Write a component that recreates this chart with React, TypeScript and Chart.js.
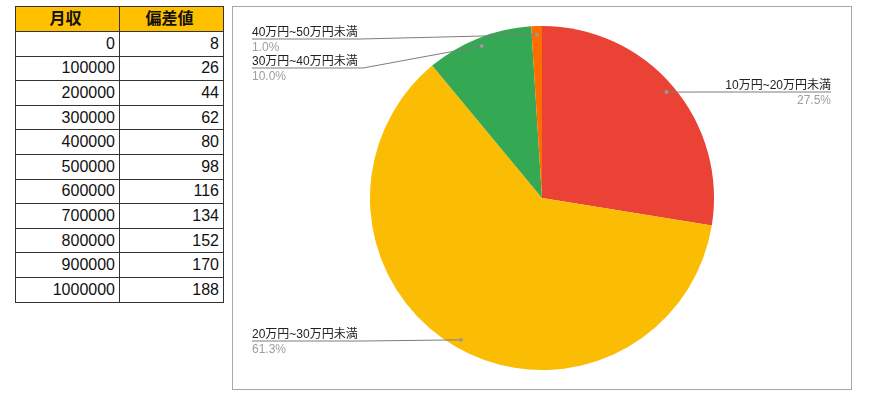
import { useEffect, useRef } from 'react'
import Chart from 'chart.js/auto'

// table data
const incomes = [0, 100000, 200000, 300000, 400000, 500000, 600000, 700000, 800000, 900000, 1000000]
const deviations = [8, 26, 44, 62, 80, 98, 116, 134, 152, 170, 188]

// pie data
const categories = ['10万円~20万円未満', '20万円~30万円未満', '30万円~40万円未満', '40万円~50万円未満']
const shares = [27.5, 61.3, 10.0, 1.0]
const sliceColors = ['#EA4335', '#FBBC04', '#34A853', '#FF6D01']

// where each slice label sits (canvas px)
const labelLayout = [
  { side: 'right', textX: 598, lineY: 85, elbowX: 470 },
  { side: 'left', textX: 19, lineY: 334, elbowX: 130 },
  { side: 'left', textX: 19, lineY: 61, elbowX: 130 },
  { side: 'left', textX: 19, lineY: 32, elbowX: 128 },
]

const FONT = '"Liberation Sans", "Noto Sans CJK JP", sans-serif'

const leaderLabels = {
  id: 'leaderLabels',
  afterDatasetsDraw(chart: any) {
    const ctx = chart.ctx as CanvasRenderingContext2D
    const meta = chart.getDatasetMeta(0)
    meta.data.forEach((arc: any, i: number) => {
      const { x, y, startAngle, endAngle, outerRadius } = arc.getProps(
        ['x', 'y', 'startAngle', 'endAngle', 'outerRadius'],
        true
      )
      const mid = (startAngle + endAngle) / 2
      const px = x + Math.cos(mid) * outerRadius * 0.95
      const py = y + Math.sin(mid) * outerRadius * 0.95
      const lay = labelLayout[i]

      ctx.save()
      ctx.strokeStyle = '#7d7d7d'
      ctx.lineWidth = 1
      ctx.beginPath()
      ctx.moveTo(lay.textX, lay.lineY)
      ctx.lineTo(lay.elbowX, lay.lineY)
      ctx.lineTo(px, py)
      ctx.stroke()

      ctx.fillStyle = '#9a9a9a'
      ctx.beginPath()
      ctx.arc(px, py, 2, 0, Math.PI * 2)
      ctx.fill()

      ctx.textAlign = lay.side === 'right' ? 'right' : 'left'
      ctx.textBaseline = 'alphabetic'
      ctx.font = `12px ${FONT}`
      ctx.fillStyle = '#222222'
      ctx.fillText(categories[i], lay.textX, lay.lineY - 3)
      ctx.fillStyle = '#9e9e9e'
      ctx.fillText(shares[i].toFixed(1) + '%', lay.textX, lay.lineY + 12)
      ctx.restore()
    })
  },
}

function PieChart() {
  const canvasRef = useRef<HTMLCanvasElement>(null)
  const chartRef = useRef<Chart | null>(null)

  useEffect(() => {
    const canvas = canvasRef.current
    if (!canvas) return
    if (chartRef.current) chartRef.current.destroy()

    chartRef.current = new Chart(canvas, {
      type: 'pie',
      data: {
        labels: categories,
        datasets: [
          {
            data: shares,
            backgroundColor: sliceColors,
            borderWidth: 0,
          },
        ],
      },
      options: {
        responsive: false,
        animation: false,
        layout: { padding: 19 },
        plugins: {
          legend: { display: false },
          tooltip: { enabled: false },
        },
      },
      plugins: [leaderLabels],
    })

    return () => {
      if (chartRef.current) {
        chartRef.current.destroy()
        chartRef.current = null
      }
    }
  }, [])

  return <canvas ref={canvasRef} width={618} height={382} style={{ display: 'block' }} />
}

const cellStyle: React.CSSProperties = {
  border: '1px solid #333',
  textAlign: 'right',
  padding: '0 4px 0 0',
  height: 23.6,
  fontSize: 16,
  lineHeight: '16px',
  color: '#111',
}

const headStyle: React.CSSProperties = {
  ...cellStyle,
  textAlign: 'center',
  fontWeight: 'bold',
  background: '#FFC000',
  height: 24,
}

export default function App() {
  return (
    <div
      style={{
        position: 'absolute',
        left: 0,
        top: 0,
        width: 870,
        height: 403,
        background: '#fff',
        fontFamily: FONT,
      }}
    >
      <table
        style={{
          position: 'absolute',
          left: 15,
          top: 6,
          borderCollapse: 'collapse',
          width: 209,
          tableLayout: 'fixed',
        }}
      >
        <thead>
          <tr>
            <th style={headStyle}>月収</th>
            <th style={headStyle}>偏差値</th>
          </tr>
        </thead>
        <tbody>
          {incomes.map((v, i) => (
            <tr key={v}>
              <td style={cellStyle}>{v}</td>
              <td style={cellStyle}>{deviations[i]}</td>
            </tr>
          ))}
        </tbody>
      </table>
      <div
        style={{
          position: 'absolute',
          left: 232,
          top: 6,
          width: 620,
          height: 384,
          boxSizing: 'border-box',
          border: '1px solid #a8a8a8',
        }}
      >
        <PieChart />
      </div>
    </div>
  )
}
